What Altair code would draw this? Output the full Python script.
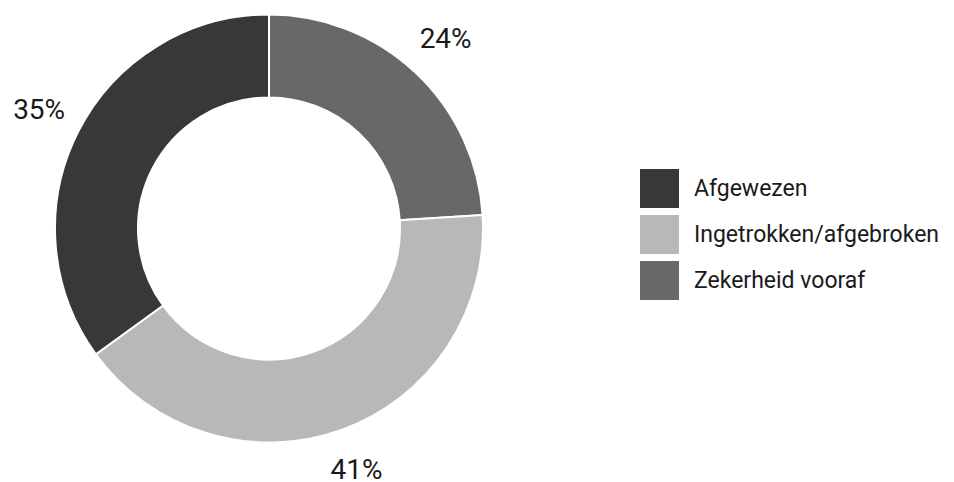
import altair as alt
import pandas as pd

categories = ["Zekerheid vooraf", "Ingetrokken/afgebroken", "Afgewezen"]
values = [24, 41, 35]
labels = ["24%", "41%", "35%"]
slice_order = [0, 1, 2]

legend_domain = ["Afgewezen", "Ingetrokken/afgebroken", "Zekerheid vooraf"]
legend_colors = ["#383838", "#b8b8b8", "#686868"]

df = pd.DataFrame({"cat": categories, "value": values, "label": labels, "ord": slice_order})

cx, cy = 261, 220.5

base = alt.Chart(df).encode(
    theta=alt.Theta("value:Q", stack=True),
    order=alt.Order("ord:Q", sort="ascending"),
)

arcs = base.mark_arc(outerRadius=214, innerRadius=131, stroke="white", strokeWidth=2).encode(
    x=alt.value(cx),
    y=alt.value(cy),
    color=alt.Color(
        "cat:N",
        scale=alt.Scale(domain=legend_domain, range=legend_colors),
        legend=alt.Legend(
            title=None,
            orient="none",
            legendX=632,
            legendY=161,
            symbolType="square",
            symbolSize=1521,
            symbolStrokeWidth=0,
            labelFontSize=23,
            labelFont="Roboto",
            labelColor="#1a1a1a",
            labelOffset=15,
            rowPadding=7,
            padding=0,
            labelLimit=400,
        ),
    ),
)

text = base.mark_text(radius=258, fontSize=28, font="Roboto", color="#1a1a1a").encode(
    x=alt.value(cx),
    y=alt.value(cy),
    text="label:N",
)

chart = (arcs + text).properties(
    width=938, height=474, autosize=alt.AutoSizeParams(type="none"), padding=0
).configure_view(stroke=None)

chart.save("out.html", embed_options={"renderer": "svg", "actions": False})
